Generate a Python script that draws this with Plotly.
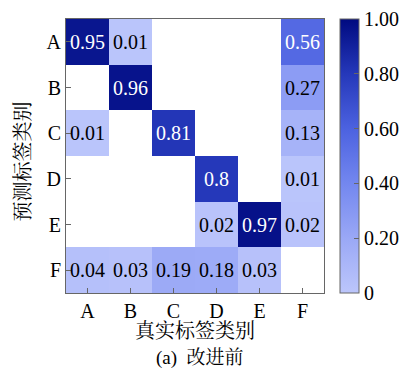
import plotly.graph_objects as go

true_labels = ["A", "B", "C", "D", "E", "F"]
pred_labels = ["A", "B", "C", "D", "E", "F"]

row_A = [0.95, 0.01, 0, 0, 0, 0.56]
row_B = [0, 0.96, 0, 0, 0, 0.27]
row_C = [0.01, 0, 0.81, 0, 0, 0.13]
row_D = [0, 0, 0, 0.8, 0, 0.01]
row_E = [0, 0, 0, 0.02, 0.97, 0.02]
row_F = [0.04, 0.03, 0.19, 0.18, 0.03, 0]
rows = [row_A, row_B, row_C, row_D, row_E, row_F]

cbar_vals = [0, 0.2, 0.4, 0.6, 0.8, 1.0]
cbar_text = ["0", "0.20", "0.40", "0.60", "0.80", "1.00"]

x_title = "真实标签类别"
y_title = "预测标签类别"
caption = "(a)  改进前"

FONT = "Liberation Serif, Times New Roman, Noto Serif CJK SC, Noto Sans CJK SC, serif"
GREY = "#666666"
FS = 20
CJK_FS = 20

z = [[(v if v > 0 else None) for v in r] for r in rows]

colorscale = [
    [0.0, "#bcc6fb"],
    [0.2, "#9aa8f6"],
    [0.4, "#7387ef"],
    [0.6, "#4c62e0"],
    [0.8, "#2538ba"],
    [1.0, "#000a80"],
]

fig = go.Figure(go.Heatmap(
    z=z, x=true_labels, y=pred_labels,
    zmin=0, zmax=1, colorscale=colorscale,
    hoverongaps=False,
    colorbar=dict(
        x=1.062, xanchor="left", y=0.5, yanchor="middle",
        len=1, lenmode="fraction", thickness=19,
        outlinecolor=GREY, outlinewidth=1,
        ticks="inside", ticklen=5, tickcolor=GREY,
        tickvals=cbar_vals, ticktext=cbar_text,
        tickfont=dict(family=FONT, size=FS, color="black"),
        xpad=0, ypad=0,
    ),
))

annotations = []
for i, r in enumerate(rows):
    for j, v in enumerate(r):
        if v > 0:
            annotations.append(dict(
                x=true_labels[j], y=pred_labels[i], xref="x", yref="y",
                text=str(v), showarrow=False,
                font=dict(family=FONT, size=FS,
                          color="white" if v > 0.5 else "black"),
            ))

annotations.append(dict(
    x=0.5, y=0, xref="paper", yref="paper", yshift=-38,
    xanchor="center", yanchor="middle",
    text=x_title, showarrow=False,
    font=dict(family=FONT, size=CJK_FS, color="black"),
))
annotations.append(dict(
    x=0, y=0.48, xref="paper", yref="paper", xshift=-43,
    xanchor="center", yanchor="middle", textangle=-90,
    text=y_title, showarrow=False,
    font=dict(family=FONT, size=CJK_FS, color="black"),
))
annotations.append(dict(
    x=0.52, y=0, xref="paper", yref="paper", yshift=-65,
    xanchor="center", yanchor="middle",
    text=caption, showarrow=False,
    font=dict(family=FONT, size=CJK_FS - 1, color="black"),
))

fig.update_layout(
    width=417, height=370,
    margin=dict(l=66, r=78, t=19, b=77),
    paper_bgcolor="white", plot_bgcolor="white",
    font=dict(family=FONT, size=FS, color="black"),
    annotations=annotations,
    xaxis=dict(
        categoryorder="array", categoryarray=true_labels,
        automargin=False,
        showline=True, mirror=True, linecolor=GREY, linewidth=1,
        ticks="inside", ticklen=5, tickcolor=GREY,
        showgrid=False, zeroline=False,
        tickfont=dict(family=FONT, size=FS),
    ),
    yaxis=dict(
        categoryorder="array", categoryarray=pred_labels,
        autorange="reversed", automargin=False,
        showline=True, mirror=True, linecolor=GREY, linewidth=1,
        ticks="inside", ticklen=5, tickcolor=GREY,
        showgrid=False, zeroline=False,
        tickfont=dict(family=FONT, size=FS),
    ),
)

fig.write_html(
    "out.html",
    config={"displayModeBar": False},
    post_script="document.body.style.margin='0px';document.body.style.overflow='hidden';",
)
